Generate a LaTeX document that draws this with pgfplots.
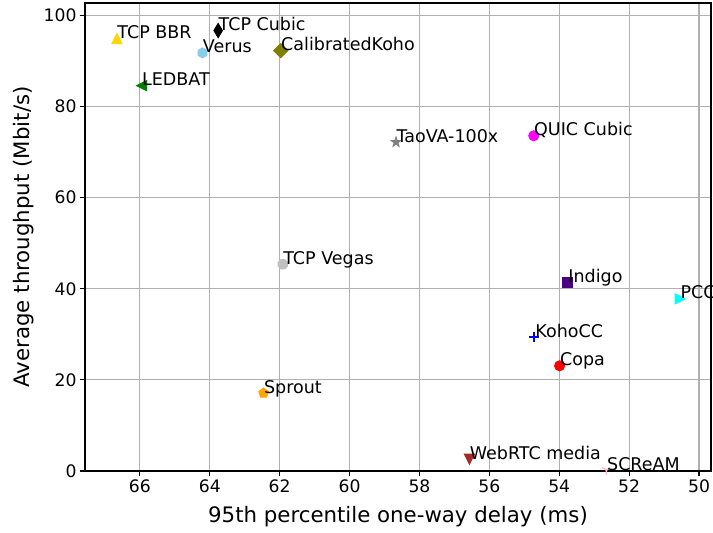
\documentclass[border=0pt]{standalone}
\usepackage{fontspec}
\setmainfont{DejaVu Sans}
\usepackage{pgfplots}
\pgfplotsset{compat=1.18}
\definecolor{gridgray}{HTML}{B0B0B0}
\definecolor{cgold}{HTML}{FFD700}
\definecolor{cskyblue}{HTML}{87CEEB}
\definecolor{colive}{HTML}{808000}
\definecolor{cgreen}{HTML}{008000}
\definecolor{cgray}{HTML}{808080}
\definecolor{cmagenta}{HTML}{FF00FF}
\definecolor{csilver}{HTML}{C0C0C0}
\definecolor{cindigo}{HTML}{4B0082}
\definecolor{ccyan}{HTML}{00FFFF}
\definecolor{cblue}{HTML}{0000FF}
\definecolor{cred}{HTML}{FF0000}
\definecolor{corange}{HTML}{FFA500}
\definecolor{cbrown}{HTML}{A52A2A}
\definecolor{cpink}{HTML}{FFC0CB}
% matplotlib-like marker shapes (r = half marker size)
\pgfdeclareplotmark{mtriup}{%
  \pgfpathmoveto{\pgfqpoint{0pt}{\pgfplotmarksize}}%
  \pgfpathlineto{\pgfqpoint{-\pgfplotmarksize}{-\pgfplotmarksize}}%
  \pgfpathlineto{\pgfqpoint{\pgfplotmarksize}{-\pgfplotmarksize}}%
  \pgfpathclose\pgfusepathqfillstroke}
\pgfdeclareplotmark{mtridown}{%
  \pgfpathmoveto{\pgfqpoint{0pt}{-\pgfplotmarksize}}%
  \pgfpathlineto{\pgfqpoint{-\pgfplotmarksize}{\pgfplotmarksize}}%
  \pgfpathlineto{\pgfqpoint{\pgfplotmarksize}{\pgfplotmarksize}}%
  \pgfpathclose\pgfusepathqfillstroke}
\pgfdeclareplotmark{mtrileft}{%
  \pgfpathmoveto{\pgfqpoint{-\pgfplotmarksize}{0pt}}%
  \pgfpathlineto{\pgfqpoint{\pgfplotmarksize}{\pgfplotmarksize}}%
  \pgfpathlineto{\pgfqpoint{\pgfplotmarksize}{-\pgfplotmarksize}}%
  \pgfpathclose\pgfusepathqfillstroke}
\pgfdeclareplotmark{mtriright}{%
  \pgfpathmoveto{\pgfqpoint{\pgfplotmarksize}{0pt}}%
  \pgfpathlineto{\pgfqpoint{-\pgfplotmarksize}{\pgfplotmarksize}}%
  \pgfpathlineto{\pgfqpoint{-\pgfplotmarksize}{-\pgfplotmarksize}}%
  \pgfpathclose\pgfusepathqfillstroke}
\pgfdeclareplotmark{mhex}{%
  \pgfpathmoveto{\pgfqpointpolar{90}{\pgfplotmarksize}}%
  \pgfpathlineto{\pgfqpointpolar{150}{\pgfplotmarksize}}%
  \pgfpathlineto{\pgfqpointpolar{210}{\pgfplotmarksize}}%
  \pgfpathlineto{\pgfqpointpolar{270}{\pgfplotmarksize}}%
  \pgfpathlineto{\pgfqpointpolar{330}{\pgfplotmarksize}}%
  \pgfpathlineto{\pgfqpointpolar{30}{\pgfplotmarksize}}%
  \pgfpathclose\pgfusepathqfillstroke}
\pgfdeclareplotmark{moct}{%
  \pgfpathmoveto{\pgfqpointpolar{22.5}{\pgfplotmarksize}}%
  \pgfpathlineto{\pgfqpointpolar{67.5}{\pgfplotmarksize}}%
  \pgfpathlineto{\pgfqpointpolar{112.5}{\pgfplotmarksize}}%
  \pgfpathlineto{\pgfqpointpolar{157.5}{\pgfplotmarksize}}%
  \pgfpathlineto{\pgfqpointpolar{202.5}{\pgfplotmarksize}}%
  \pgfpathlineto{\pgfqpointpolar{247.5}{\pgfplotmarksize}}%
  \pgfpathlineto{\pgfqpointpolar{292.5}{\pgfplotmarksize}}%
  \pgfpathlineto{\pgfqpointpolar{337.5}{\pgfplotmarksize}}%
  \pgfpathclose\pgfusepathqfillstroke}
\pgfdeclareplotmark{mpent}{%
  \pgfpathmoveto{\pgfqpointpolar{90}{\pgfplotmarksize}}%
  \pgfpathlineto{\pgfqpointpolar{162}{\pgfplotmarksize}}%
  \pgfpathlineto{\pgfqpointpolar{234}{\pgfplotmarksize}}%
  \pgfpathlineto{\pgfqpointpolar{306}{\pgfplotmarksize}}%
  \pgfpathlineto{\pgfqpointpolar{18}{\pgfplotmarksize}}%
  \pgfpathclose\pgfusepathqfillstroke}
\pgfdeclareplotmark{mstar}{%
  \pgfpathmoveto{\pgfqpointpolar{90}{\pgfplotmarksize}}%
  \pgfpathlineto{\pgfqpointpolar{126}{0.382\pgfplotmarksize}}%
  \pgfpathlineto{\pgfqpointpolar{162}{\pgfplotmarksize}}%
  \pgfpathlineto{\pgfqpointpolar{198}{0.382\pgfplotmarksize}}%
  \pgfpathlineto{\pgfqpointpolar{234}{\pgfplotmarksize}}%
  \pgfpathlineto{\pgfqpointpolar{270}{0.382\pgfplotmarksize}}%
  \pgfpathlineto{\pgfqpointpolar{306}{\pgfplotmarksize}}%
  \pgfpathlineto{\pgfqpointpolar{342}{0.382\pgfplotmarksize}}%
  \pgfpathlineto{\pgfqpointpolar{18}{\pgfplotmarksize}}%
  \pgfpathlineto{\pgfqpointpolar{54}{0.382\pgfplotmarksize}}%
  \pgfpathclose\pgfusepathqfillstroke}
\pgfdeclareplotmark{mdiam}{%
  \pgfpathmoveto{\pgfqpoint{0pt}{1.414\pgfplotmarksize}}%
  \pgfpathlineto{\pgfqpoint{1.414\pgfplotmarksize}{0pt}}%
  \pgfpathlineto{\pgfqpoint{0pt}{-1.414\pgfplotmarksize}}%
  \pgfpathlineto{\pgfqpoint{-1.414\pgfplotmarksize}{0pt}}%
  \pgfpathclose\pgfusepathqfillstroke}
\pgfdeclareplotmark{mthindiam}{%
  \pgfpathmoveto{\pgfqpoint{0pt}{1.414\pgfplotmarksize}}%
  \pgfpathlineto{\pgfqpoint{0.85\pgfplotmarksize}{0pt}}%
  \pgfpathlineto{\pgfqpoint{0pt}{-1.414\pgfplotmarksize}}%
  \pgfpathlineto{\pgfqpoint{-0.85\pgfplotmarksize}{0pt}}%
  \pgfpathclose\pgfusepathqfillstroke}
\pgfdeclareplotmark{msq}{%
  \pgfpathrectangle{\pgfqpoint{-\pgfplotmarksize}{-\pgfplotmarksize}}{\pgfqpoint{2\pgfplotmarksize}{2\pgfplotmarksize}}%
  \pgfusepathqfillstroke}
\pgfdeclareplotmark{mcirc}{%
  \pgfpathcircle{\pgfpointorigin}{\pgfplotmarksize}%
  \pgfusepathqfillstroke}
\pgfdeclareplotmark{mplus}{%
  \pgfpathmoveto{\pgfqpoint{-\pgfplotmarksize}{0pt}}%
  \pgfpathlineto{\pgfqpoint{\pgfplotmarksize}{0pt}}%
  \pgfpathmoveto{\pgfqpoint{0pt}{-\pgfplotmarksize}}%
  \pgfpathlineto{\pgfqpoint{0pt}{\pgfplotmarksize}}%
  \pgfusepathqstroke}
\pgfdeclareplotmark{mtridownline}{%
  \pgfpathmoveto{\pgfpointorigin}%
  \pgfpathlineto{\pgfqpoint{0pt}{-\pgfplotmarksize}}%
  \pgfpathmoveto{\pgfpointorigin}%
  \pgfpathlineto{\pgfqpoint{0.8\pgfplotmarksize}{0.5\pgfplotmarksize}}%
  \pgfpathmoveto{\pgfpointorigin}%
  \pgfpathlineto{\pgfqpoint{-0.8\pgfplotmarksize}{0.5\pgfplotmarksize}}%
  \pgfusepathqstroke}
\newcommand{\lblfont}{\fontsize{17.5bp}{20bp}\selectfont}
\newcommand{\tickfont}{\fontsize{17.2bp}{20bp}\selectfont}
\newcommand{\axfont}{\fontsize{21.3bp}{25bp}\selectfont}
\pgfplotsset{
  pt/.style n args={3}{only marks, mark=#1, mark size=5bp,
    mark options={draw=#2, fill=#2, line width=#3},
    nodes near coords, point meta=explicit symbolic,
    every node near coord/.append style={anchor=base west, inner sep=0pt, font=\lblfont, text=black}},
}
\begin{document}
\begin{tikzpicture}
\path[use as bounding box] (-85bp,-62bp) rectangle (628bp,471bp);
\begin{axis}[
  at={(0,0)}, anchor=south west,
  scale only axis, width=626bp, height=468bp,
  x dir=reverse,
  xmin=49.657, xmax=67.571, ymin=0, ymax=102.75,
  xtick={50,52,...,66}, ytick={0,20,...,100},
  grid=major,
  major grid style={color=gridgray, line width=1.15bp},
  axis line style={line width=1.15bp},
  tick style={black, line width=1.15bp},
  tick align=outside, major tick length=5bp,
  xtick pos=lower, ytick pos=left,
  /pgf/number format/assume math mode=true,
  ticklabel style={font=\tickfont},
  xlabel={95th percentile one-way delay (ms)},
  ylabel={Average throughput (Mbit/s)},
  label style={font=\axfont},
  xlabel style={at={(axis description cs:0.5,-0.1111)}, anchor=base},
  ylabel style={at={(axis description cs:-0.088,0.5)}, anchor=base},
]
\addplot[pt={mtriup}{cgold}{1bp}] coordinates {(66.657,94.95) [TCP BBR]};
\addplot[pt={mthindiam}{black}{1bp}] coordinates {(63.76,96.7) [TCP Cubic]};
\addplot[pt={mhex}{cskyblue}{1bp}] coordinates {(64.21,91.8) [Verus]};
\addplot[pt={mdiam}{colive}{1bp}] coordinates {(61.97,92.3) [CalibratedKoho]};
\addplot[pt={mtrileft}{cgreen}{1bp}] coordinates {(65.95,84.6) [LEDBAT]};
\addplot[pt={mstar}{cgray}{1bp}] coordinates {(58.67,72.2) [TaoVA-100x]};
\addplot[pt={mcirc}{cmagenta}{1bp}] coordinates {(54.73,73.6) [QUIC Cubic]};
\addplot[pt={moct}{csilver}{1bp}] coordinates {(61.91,45.4) [TCP Vegas]};
\addplot[pt={msq}{cindigo}{1bp}] coordinates {(53.75,41.3) [Indigo]};
\addplot[pt={mtriright}{ccyan}{1bp}] coordinates {(50.54,37.8) [PCC]};
\addplot[pt={mplus}{cblue}{2.1bp}] coordinates {(54.71,29.4) [KohoCC]};
\addplot[pt={mcirc}{cred}{1bp}] coordinates {(53.99,23.1) [Copa]};
\addplot[pt={mpent}{corange}{1bp}] coordinates {(62.46,17.1) [Sprout]};
\addplot[pt={mtridown}{cbrown}{1bp}] coordinates {(56.57,2.6) [WebRTC media]};
\addplot[pt={mtridownline}{cpink}{1.5bp}] coordinates {(52.65,0.2) [SCReAM]};
\end{axis}
\end{tikzpicture}
\end{document}
